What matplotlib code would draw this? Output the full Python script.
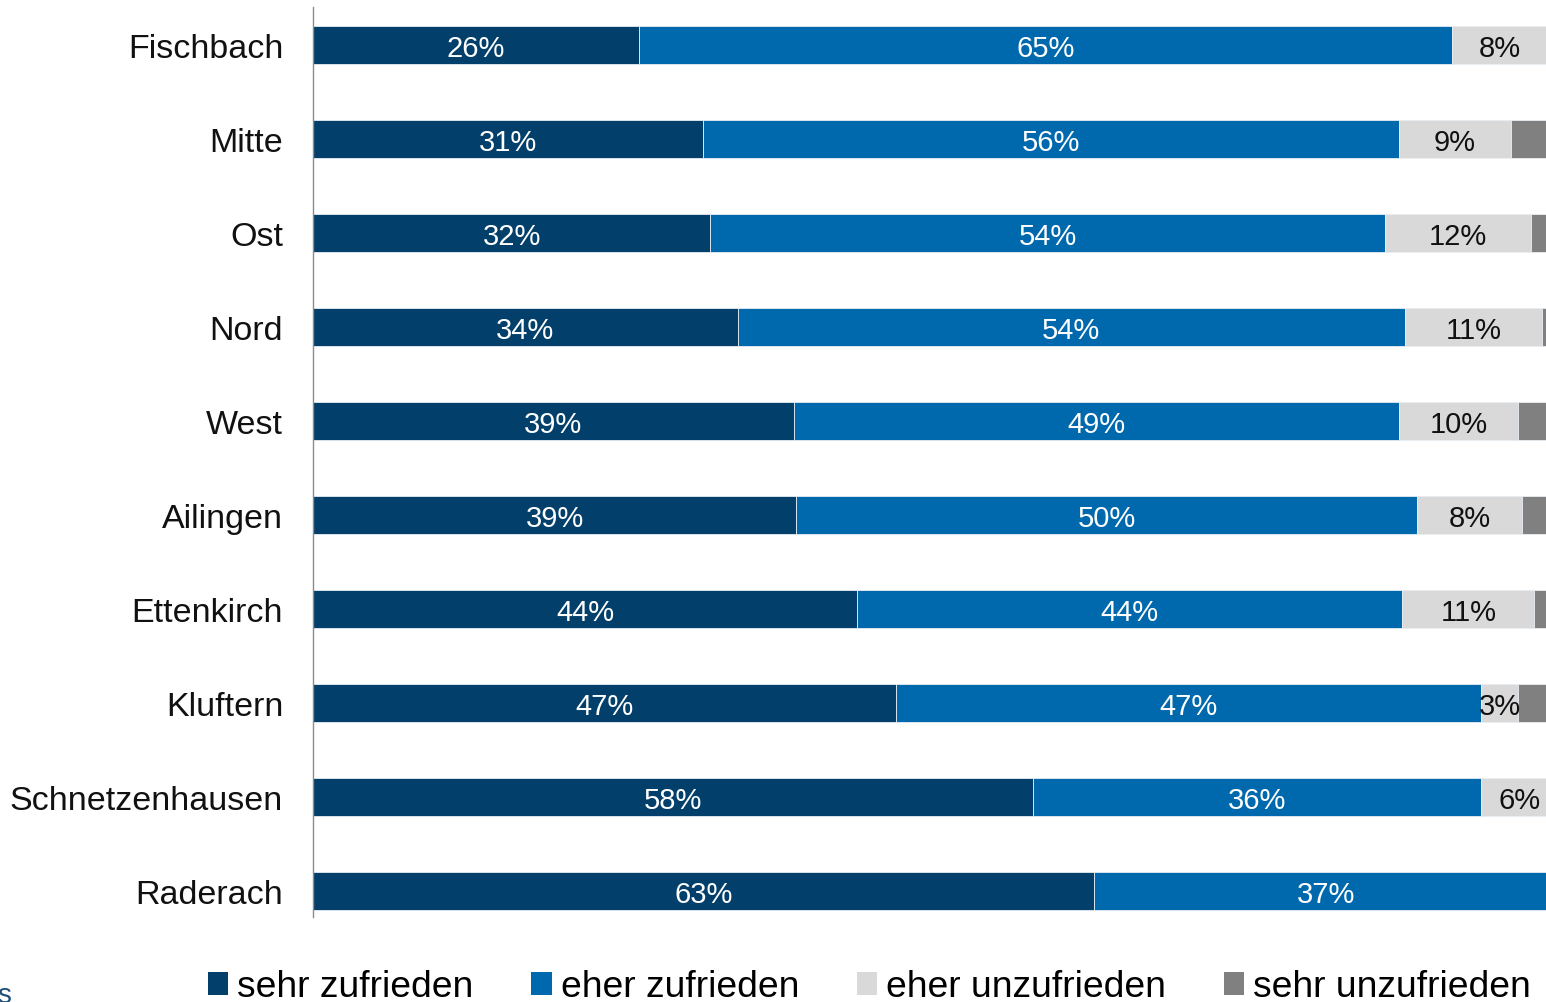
import numpy as np
import matplotlib.pyplot as plt
from matplotlib.patches import Patch

plt.rcParams['font.family'] = ['Liberation Sans', 'DejaVu Sans']

# Data (percent), top to bottom
districts = ['Fischbach', 'Mitte', 'Ost', 'Nord', 'West', 'Ailingen',
             'Ettenkirch', 'Kluftern', 'Schnetzenhausen', 'Raderach']
sehr_zufrieden = [26.2, 31.3, 31.9, 34.1, 38.6, 38.8, 43.7, 46.8, 57.8, 62.7]
eher_zufrieden = [65.3, 55.9, 54.2, 53.6, 48.6, 49.9, 43.8, 47.0, 36.0, 37.3]
eher_unzufrieden = [7.6, 9.0, 11.7, 11.0, 9.6, 8.4, 10.6, 3.0, 6.2, 0.0]
sehr_unzufrieden = [0.9, 3.8, 2.2, 1.3, 3.2, 2.9, 1.9, 3.2, 0.0, 0.0]

series = [sehr_zufrieden, eher_zufrieden, eher_unzufrieden, sehr_unzufrieden]
series_names = ['sehr zufrieden', 'eher zufrieden', 'eher unzufrieden', 'sehr unzufrieden']
colors = ['#023F6B', '#0068AC', '#D9D9D9', '#808080']
text_colors = ['white', 'white', '#111111', None]

W, H = 1546, 1003
fig = plt.figure(figsize=(W / 100, H / 100), dpi=100)
# axes runs past the right edge like the original crop
ax = fig.add_axes([313 / W, (H - 918) / H, 1245 / W, 910 / H])

y = np.arange(len(districts))
left = np.zeros(len(districts))
for vals, col, tcol in zip(series, colors, text_colors):
    vals = np.array(vals)
    ax.barh(y, vals, left=left, height=0.40, color=col,
            edgecolor='#E8EEF4', linewidth=0.6)
    if tcol is not None:
        for yi, l, v in zip(y, left, vals):
            if v > 0:
                ax.text(l + v / 2, yi, f'{round(v)}%', ha='center',
                        va='center_baseline', color=tcol, fontsize=21)
    left += vals

ax.set_xlim(0, 100)
ax.set_ylim(9 + 26 / 94, -38 / 94)
ax.set_yticks(y)
ax.set_yticklabels(districts, fontsize=24.5, color='#111111')
ax.tick_params(axis='y', length=0, pad=21.5)
ax.set_xticks([])
for s in ['top', 'right', 'bottom']:
    ax.spines[s].set_visible(False)
ax.spines['left'].set_color('#8C8C8C')
ax.spines['left'].set_linewidth(1.0)

handles = [Patch(facecolor=c, edgecolor='none') for c in colors]
fig.legend(handles, series_names, loc='center left',
           bbox_to_anchor=(208 / W, (H - 988) / H), ncol=4, frameon=False,
           fontsize=26.8, handlelength=0.55, handleheight=0.55,
           handletextpad=0.24, columnspacing=1.55, borderpad=0, borderaxespad=0)

fig.text(-0.002, (H - 996) / H, 's', color='#1F4E79', fontsize=20, va='center')

fig.savefig('out.png', dpi=100)
